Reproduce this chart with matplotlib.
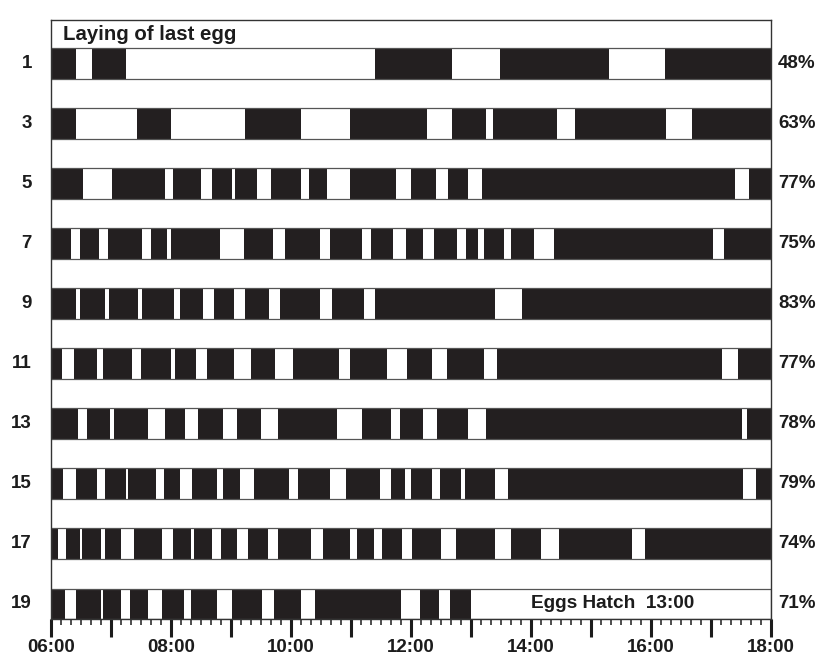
import matplotlib
matplotlib.use("Agg")
import matplotlib.pyplot as plt
import matplotlib.transforms as mtransforms

plt.rcParams['font.family'] = ['Liberation Sans', 'DejaVu Sans']
plt.rcParams['font.weight'] = 'bold'

# ---- data (minutes after 06:00) ----
days = ["1", "3", "5", "7", "9", "11", "13", "15", "17", "19"]
percent_on = ["48%", "63%", "77%", "75%", "83%", "77%", "78%", "79%", "74%", "71%"]

gaps_d1 = [(25, 41), (75, 324), (401, 449), (558, 614)]
gaps_d3 = [(25, 86), (120, 194), (250, 299), (376, 401), (435, 442), (506, 524), (615, 641)]
gaps_d5 = [(32, 61), (114, 122), (150, 161), (181, 184), (206, 220), (250, 258), (276, 299),
           (345, 360), (385, 397), (417, 431), (684, 698)]
gaps_d7 = [(20, 29), (48, 57), (91, 100), (116, 120), (169, 193), (222, 234), (269, 279),
           (311, 320), (342, 355), (372, 383), (406, 415), (427, 433), (453, 460), (483, 503),
           (662, 673)]
gaps_d9 = [(25, 29), (54, 58), (87, 91), (123, 129), (152, 163), (183, 194), (218, 229),
           (269, 281), (313, 324), (444, 471)]
gaps_d11 = [(11, 23), (46, 52), (81, 90), (120, 124), (145, 156), (183, 200), (224, 242),
            (288, 299), (336, 356), (381, 396), (433, 446), (671, 687)]
gaps_d13 = [(27, 36), (59, 63), (97, 114), (134, 147), (172, 186), (210, 227), (286, 311),
            (340, 349), (372, 386), (417, 435), (691, 696)]
gaps_d15 = [(12, 25), (46, 54), (75, 77), (105, 113), (129, 141), (166, 172), (189, 203),
            (238, 247), (279, 295), (329, 340), (354, 360), (381, 389), (410, 414), (444, 457),
            (692, 705)]
gaps_d17 = [(7, 15), (29, 30.5), (50, 54), (70, 83), (111, 122), (140, 143), (161, 170),
            (186, 197), (217, 227), (260, 272), (299, 306), (323, 331), (351, 361), (390, 405),
            (444, 460), (490, 508), (581, 594)]
gaps_d19 = [(14, 25), (50, 51.5), (70, 79), (97, 111), (133, 140), (166, 181), (211, 223),
            (250, 264), (350, 369), (388, 399)]
all_gaps = [gaps_d1, gaps_d3, gaps_d5, gaps_d7, gaps_d9, gaps_d11, gaps_d13, gaps_d15,
            gaps_d17, gaps_d19]

day_length = 720          # 06:00 -> 18:00
hatch_time = 420          # 13:00 on day 19
row_end = [day_length] * 9 + [hatch_time]
tick_labels = ["06:00", "", "08:00", "", "10:00", "", "12:00", "", "14:00", "", "16:00", "", "18:00"]

# ---- figure ----
W, H = 826, 658
fig = plt.figure(figsize=(W / 100, H / 100), dpi=100)
fig.patch.set_facecolor('white')
ax = fig.add_axes([51 / W, 39 / H, 720 / W, 599 / H])

bar_h = 0.515
black = '#231f20'
edge = '#555555'
txt = '#1c1c1c'

for i, gaps in enumerate(all_gaps):
    ax.barh(i, row_end[i], left=0, height=bar_h, color=black, edgecolor='none', zorder=2)
    ax.broken_barh([(s, e - s) for s, e in gaps], (i - bar_h / 2, bar_h),
                   facecolors='white', edgecolor='none', zorder=3)
    ax.barh(i, day_length, left=0, height=bar_h, color='none', edgecolor=edge,
            linewidth=0.9, zorder=4)

ax.set_xlim(0, day_length)
ax.set_ylim(9 + 15 / 60.05, -43.5 / 60.05)

ax.set_xticks(range(0, day_length + 1, 60))
ax.set_xticklabels(tick_labels)
ax.set_xticks(range(0, day_length + 1, 10), minor=True)
ax.set_yticks([])
ax.tick_params(axis='x', which='major', direction='out', length=13, width=2.2,
               pad=1.5, labelsize=13.5, colors=txt)
ax.tick_params(axis='x', which='minor', direction='out', length=4.5, width=1.1, colors=txt)
for lab in ax.get_xticklabels():
    lab.set_fontweight('bold')

for sp in ax.spines.values():
    sp.set_color('#333333')
    sp.set_linewidth(1.0)
    sp.set_zorder(5)

trans = mtransforms.blended_transform_factory(ax.transAxes, ax.transData)
for i, (d, p) in enumerate(zip(days, percent_on)):
    ax.text(-19 / 720, i, d, transform=trans, ha='right', va='center',
            fontsize=13.5, fontweight='bold', color=txt)
    ax.text(1 + 7 / 720, i, p, transform=trans, ha='left', va='center',
            fontsize=13.5, fontweight='bold', color=txt)

ax.text(12, -0.475, "Laying of last egg", ha='left', va='center',
        fontsize=14.7, fontweight='bold', color=txt, zorder=6)
ax.text(562, 9, "Eggs Hatch  13:00", ha='center', va='center',
        fontsize=13.7, fontweight='bold', color=txt, zorder=6)

fig.savefig("out.png", dpi=100, facecolor='white')
